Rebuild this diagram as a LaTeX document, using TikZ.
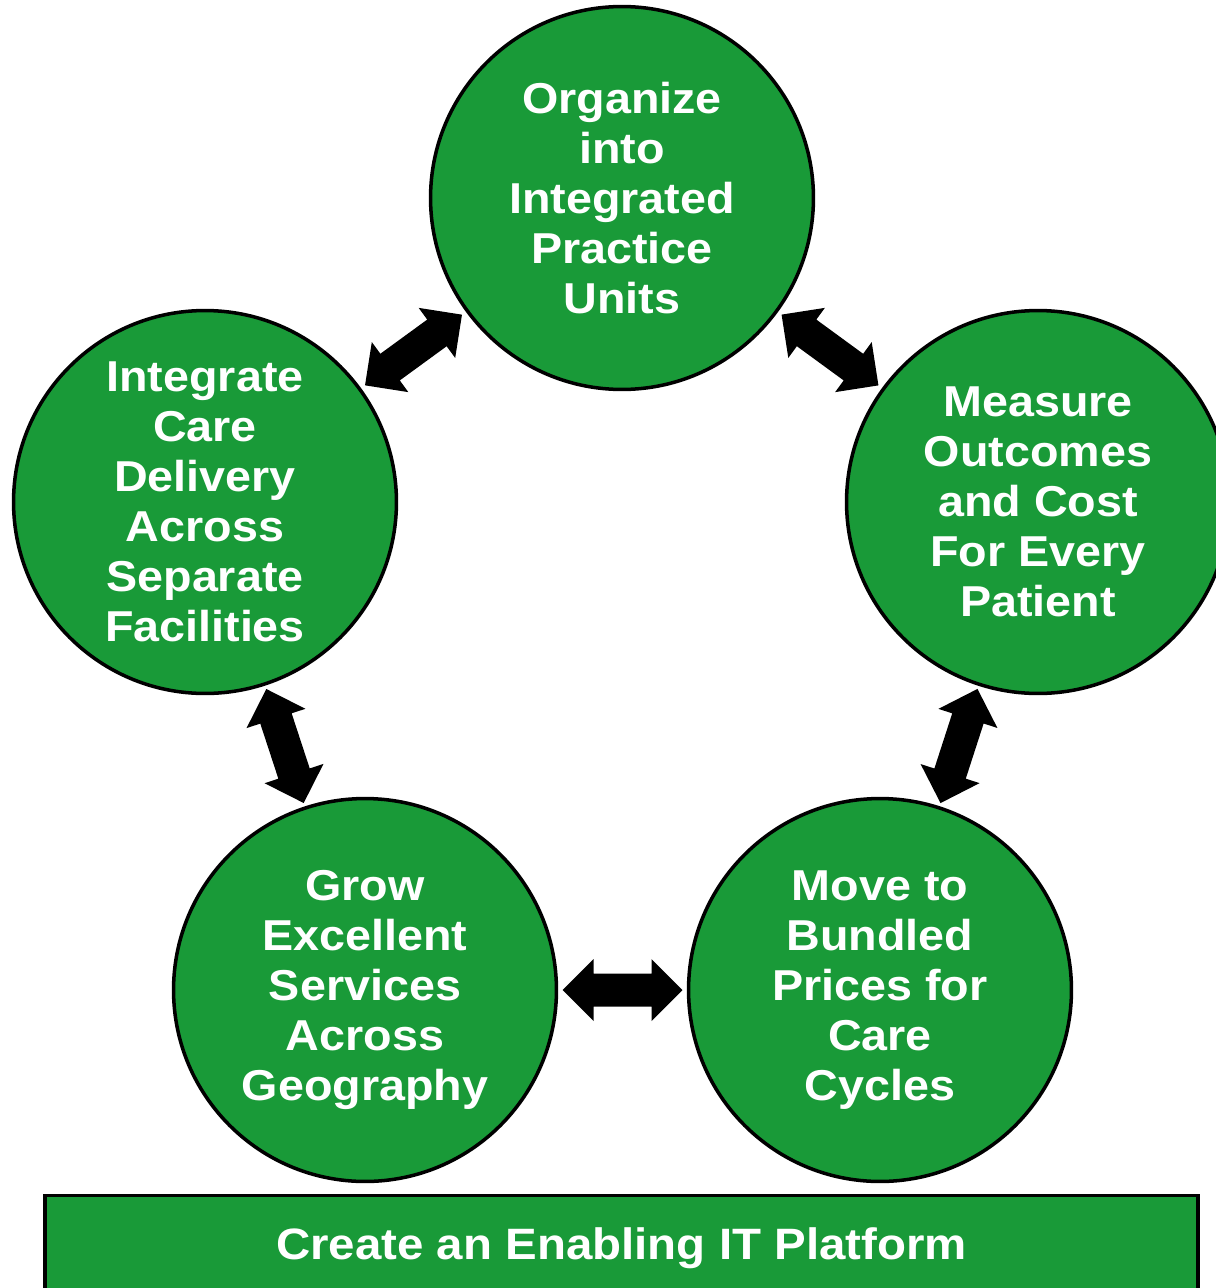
\documentclass[tikz,border=0pt]{standalone}
\usepackage{fontspec}
\setmainfont{Liberation Sans}[FakeStretch=1.08]
\usetikzlibrary{calc}
\definecolor{cgreen}{RGB}{25,154,56}
\tikzset{
  stage/.style={circle, draw=black, line width=2pt, fill=cgreen, minimum size=7.66cm, inner sep=0pt,
    text=white, align=center, font=\bfseries\fontsize{24.6}{28.45}\selectfont},
  platform/.style={rectangle, draw=black, line width=2.2pt, fill=cgreen, minimum width=23.06cm, minimum height=2.1cm,
    text=white, font=\bfseries\fontsize{25}{29}\selectfont},
  blockarrow/.style={fill=black}
}
\newcommand\vx[2]{($(mid)+(\n1:#1)+(\n1+90:#2)$)}
\newcommand\dblarrow[2]{%
  \coordinate (mid) at ($(#1)!0.5!(#2)$);
  \fill[blockarrow] let \p1=($(#2)-(#1)$), \n1={atan2(\y1,\x1)} in
    \vx{1.2cm}{0cm} -- \vx{0.58cm}{0.62cm} -- \vx{0.58cm}{0.33cm} -- \vx{-0.58cm}{0.33cm} --
    \vx{-0.58cm}{0.62cm} -- \vx{-1.2cm}{0cm} -- \vx{-0.58cm}{-0.62cm} -- \vx{-0.58cm}{-0.33cm} --
    \vx{0.58cm}{-0.33cm} -- \vx{0.58cm}{-0.62cm} -- cycle;}
\begin{document}
\begin{tikzpicture}[x=0.02cm,y=-0.02cm]
\clip (0,0) rectangle (1216,1288);
\fill[white] (0,0) rectangle (1216,1288);
\node[stage] (org) at (622,198) {Organize\\into\\Integrated\\Practice\\Units};
\node[stage] (meas) at (1038,502) {Measure\\Outcomes\\and Cost\\For Every\\Patient};
\node[stage] (move) at (880,990) {Move to\\Bundled\\Prices for\\Care\\Cycles};
\node[stage] (grow) at (365,990) {Grow\\Excellent\\Services\\Across\\Geography};
\node[stage] (integ) at (205,502) {Integrate\\Care\\Delivery\\Across\\Separate\\Facilities};
\node[platform] (it) at (621.5,1248) {Create an Enabling IT Platform};
\dblarrow{org}{meas}
\dblarrow{meas}{move}
\dblarrow{move}{grow}
\dblarrow{grow}{integ}
\dblarrow{integ}{org}
\end{tikzpicture}
\end{document}
